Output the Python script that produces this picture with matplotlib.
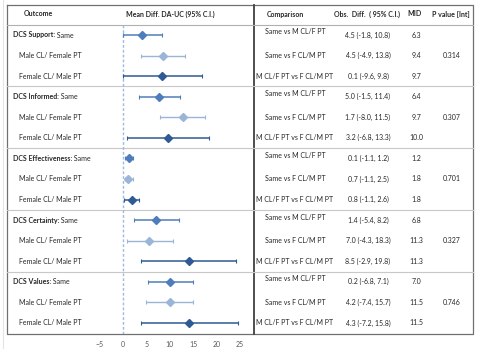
import numpy as np
import matplotlib
matplotlib.use("Agg")
from matplotlib import pyplot as plt

plt.rcParams['font.family'] = ['Lato', 'DejaVu Sans']

# Data
outcomes = ['DCS Support', 'DCS Informed', 'DCS Effectiveness',
            'DCS Certainty', 'DCS Values']
subgroups = ['Same', 'Male CL/ Female PT', 'Female CL/ Male PT']
mean_diff = [[4.0, 8.5, 8.4], [7.8, 12.8, 9.6], [1.2, 1.1, 1.9],
             [7.1, 5.6, 14.1], [10.1, 10.0, 14.2]]
ci_low = [[-0.1, 3.8, 0.1], [3.5, 8.0, 0.9], [0.4, 0.4, 0.3],
          [2.4, 0.8, 3.9], [5.3, 4.9, 3.9]]
ci_high = [[8.3, 13.3, 16.9], [12.3, 17.6, 18.4], [2.1, 2.1, 3.5],
           [11.9, 10.6, 24.3], [14.9, 14.9, 24.6]]

comparisons = ['Same vs M CL/F PT', 'Same vs F CL/M PT', 'M CL/F PT vs F CL/M PT']
obs_diff = [['4.5 (-1.8, 10.8)', '4.5 (-4.9, 13.8)', '0.1 (-9.6, 9.8)'],
            ['5.0 (-1.5, 11.4)', '1.7 (-8.0, 11.5)', '3.2 (-6.8, 13.3)'],
            ['0.1 (-1.1, 1.2)', '0.7 (-1.1, 2.5)', '0.8 (-1.1, 2.6)'],
            ['1.4 (-5.4, 8.2)', '7.0 (-4.3, 18.3)', '8.5 (-2.9, 19.8)'],
            ['0.2 (-6.8, 7.1)', '4.2 (-7.4, 15.7)', '4.3 (-7.2, 15.8)']]
mid = [['6.3', '9.4', '9.7'], ['6.4', '9.7', '10.0'], ['1.2', '1.8', '1.8'],
       ['6.8', '11.3', '11.3'], ['7.0', '11.5', '11.5']]
p_values = ['0.314', '0.307', '0.701', '0.327', '0.746']
x_ticks = [-5, 0, 5, 10, 15, 20, 25]

colors = ['#4f7dbb', '#9ab5d8', '#2f5a95']
text_col = '#262626'
fs = 5.0

W, H = 480, 349
fig = plt.figure(figsize=(W / 100, H / 100), dpi=100)

# background axes in pixel coordinates for the table
bg = fig.add_axes([0, 0, 1, 1])
bg.set_xlim(0, W)
bg.set_ylim(H, 0)
bg.axis('off')

left, right, top, bottom, divider = 7, 473, 5, 334, 254
row0, step = 35, 20.57

def row_y(i):
    return row0 + step * i

# outer box and lines
bg.plot([3, 3], [0, H], color='#e4e4e4', lw=0.8)
bg.plot([left, right, right, left, left], [top, top, bottom, bottom, top],
        color='#707070', lw=0.9)
bg.plot([divider, divider], [top, bottom], color='#404040', lw=1.3)
bg.plot([left, right], [25, 25], color='#b0b0b0', lw=0.8)
for g in range(1, len(outcomes)):
    y = (row_y(3 * g - 1) + row_y(3 * g)) / 2
    bg.plot([left, right], [y, y], color='#c8c8c8', lw=0.8)

# headers
hdr = dict(fontsize=fs, fontweight='bold', color=text_col, va='center', ha='center')
bg.text(38, 14, 'Outcome', **hdr)
bg.text(170, 14, 'Mean Diff. DA-UC (95% C.I.)', **hdr)
bg.text(285, 14, 'Comparison', **hdr)
bg.text(367, 14, 'Obs.  Diff.  ( 95% C.I.)', **hdr)
bg.text(415, 14, 'MID', **hdr)
bg.text(451, 14, 'P value [Int]', **hdr)

# left labels
for g, name in enumerate(outcomes):
    y = row_y(3 * g)
    t = bg.text(13, y, name + ':', fontsize=fs, fontweight='bold',
                color=text_col, va='center', ha='left')
    bg.annotate(' ' + subgroups[0], xy=(1, 0.5), xycoords=t, va='center',
                ha='left', fontsize=fs, color=text_col)
    for k in (1, 2):
        bg.text(19, row_y(3 * g + k), subgroups[k], fontsize=fs,
                color=text_col, va='center', ha='left')

# right table
for g in range(len(outcomes)):
    for k in range(3):
        y = row_y(3 * g + k)
        bg.text(295, y - (3 if k == 0 else 0), comparisons[k], fontsize=fs,
                color=text_col, va='center', ha='center')
        bg.text(368, y, obs_diff[g][k], fontsize=fs, color=text_col,
                va='center', ha='center')
        bg.text(416, y, mid[g][k], fontsize=fs, color=text_col,
                va='center', ha='center')
    bg.text(452, row_y(3 * g + 1), p_values[g], fontsize=fs, color=text_col,
            va='center', ha='center')

# forest plot axes, mapped so that 0 sits at x=123 and 1 unit = 4.67 px
px_per_unit = 4.67
x0 = 123
ax = fig.add_axes([left / W, 1 - bottom / H, (divider - left) / W,
                   (bottom - top) / H])
ax.patch.set_alpha(0)
ax.set_xlim((left - x0) / px_per_unit, (divider - x0) / px_per_unit)
ax.set_ylim((bottom - row0) / step, (top - row0) / step)
for s in ax.spines.values():
    s.set_visible(False)
ax.set_yticks([])
ax.set_xticks(x_ticks)
ax.tick_params(axis='x', length=0, pad=5, labelsize=fs, labelcolor='#595959')

ax.plot([0, 0], [(25 - row0) / step, ax.get_ylim()[0]], color='#9dbbe0',
        lw=1.0, ls=(0, (2, 1.5)), zorder=1)

for g in range(len(outcomes)):
    for k in range(3):
        i = 3 * g + k
        m = mean_diff[g][k]
        ax.errorbar(m, i, xerr=[[m - ci_low[g][k]], [ci_high[g][k] - m]],
                    fmt='D', color=colors[k], ms=3.6, lw=1.1 if k != 1 else 1.0,
                    capsize=1.5, capthick=0.8, zorder=3)

fig.savefig('out.png', dpi=100)
